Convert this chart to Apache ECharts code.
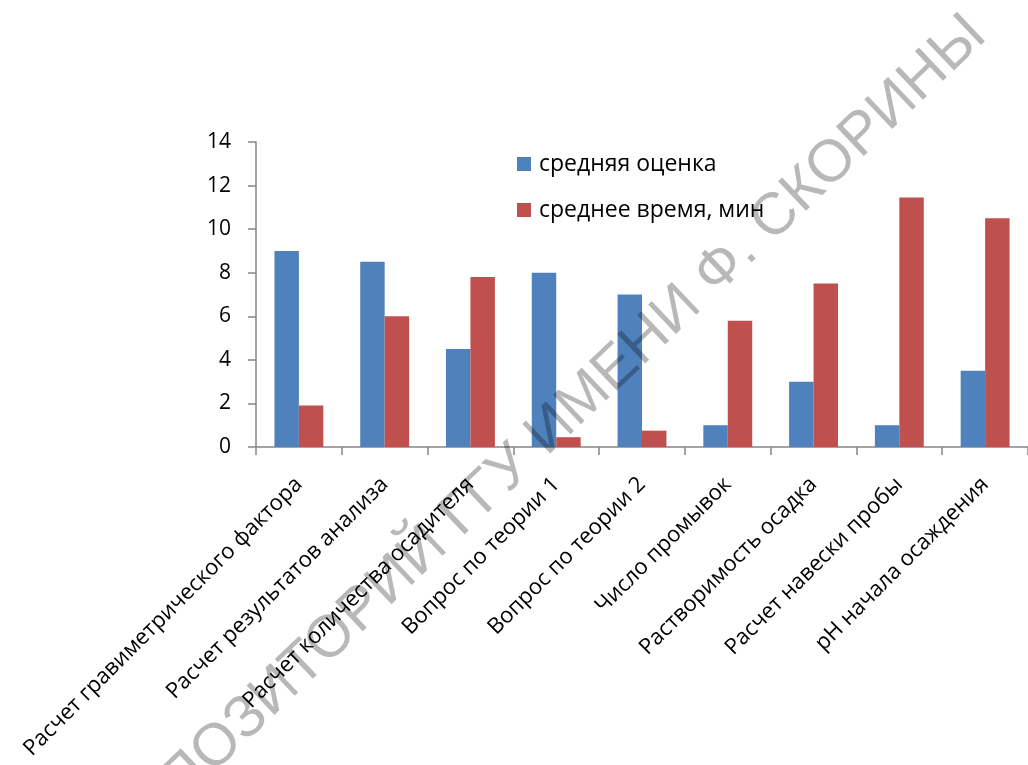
<!DOCTYPE html>
<html>
<head>
<meta charset="utf-8">
<script src="https://cdn.jsdelivr.net/npm/echarts@6/dist/echarts.min.js"></script>
<style>
  html, body { margin: 0; padding: 0; background: #ffffff; }
  #chart { width: 1028px; height: 765px; }
</style>
</head>
<body>
<div id="chart"></div>
<script>
// Categories (tasks) along the horizontal axis
const categories = [
  'Расчет гравиметрического фактора',
  'Расчет результатов анализа',
  'Расчет количества осадителя',
  'Вопрос по теории 1',
  'Вопрос по теории 2',
  'Число промывок',
  'Растворимость осадка',
  'Расчет навески пробы',
  'pH начала осаждения'
];

// Series names
const seriesNames = ['средняя оценка', 'среднее время, мин'];

// Average score per task
const avgScore = [9, 8.5, 4.5, 8, 7, 1, 3, 1, 3.5];

// Average time per task, minutes
const avgTime = [1.9, 6, 7.8, 0.45, 0.75, 5.8, 7.5, 11.45, 10.5];

// Value axis range
const yMin = 0;
const yMax = 14;
const yStep = 2;

const watermarkText = 'РЕПОЗИТОРИЙ ГГУ ИМЕНИ Ф. СКОРИНЫ';

const FONT = '"Open Sans", "Noto Sans", sans-serif';
const axisGrey = '#868686';

const chart = echarts.init(document.getElementById('chart'), null, { renderer: 'canvas' });

chart.setOption({
  animation: false,
  backgroundColor: '#ffffff',
  textStyle: { fontFamily: FONT },
  grid: { left: 256, top: 142, width: 774, height: 305, containLabel: false },
  legend: {
    orient: 'vertical',
    left: 517,
    top: 151,
    padding: 0,
    itemWidth: 14,
    itemHeight: 14,
    itemGap: 20,
    icon: 'rect',
    selectedMode: false,
    textStyle: { fontFamily: FONT, fontSize: 23, lineHeight: 26, color: '#000000', padding: [0, 0, 0, 3] },
    data: seriesNames
  },
  xAxis: {
    type: 'category',
    data: categories,
    axisLine: { show: true, lineStyle: { color: axisGrey, width: 1.5 } },
    axisTick: { show: true, length: 8, lineStyle: { color: axisGrey, width: 1.5 } },
    axisLabel: {
      interval: 0,
      rotate: 45,
      margin: 34,
      fontFamily: FONT,
      fontSize: 22,
      color: '#000000'
    }
  },
  yAxis: {
    type: 'value',
    min: yMin,
    max: yMax,
    interval: yStep,
    splitLine: { show: false },
    axisLine: { show: true, lineStyle: { color: axisGrey, width: 1.5 } },
    axisTick: { show: true, length: 8, lineStyle: { color: axisGrey, width: 1.5 } },
    axisLabel: {
      margin: 25,
      fontFamily: FONT,
      fontSize: 21,
      color: '#000000'
    }
  },
  series: [
    {
      name: seriesNames[0],
      type: 'bar',
      data: avgScore,
      barGap: '0%',
      barCategoryGap: '43%',
      itemStyle: { color: '#4F81BD' }
    },
    {
      name: seriesNames[1],
      type: 'bar',
      data: avgTime,
      barGap: '0%',
      barCategoryGap: '43%',
      itemStyle: { color: '#C0504D' }
    }
  ],
  graphic: [
    {
      type: 'text',
      x: 545,
      y: 436,
      rotation: 43.5 * Math.PI / 180,
      z: 100,
      silent: true,
      style: {
        text: watermarkText,
        fontFamily: '"Liberation Sans", Arial, sans-serif',
        fontSize: 59,
        fill: 'rgba(0, 0, 0, 0.28)',
        align: 'center',
        verticalAlign: 'middle'
      }
    }
  ]
});
</script>
</body>
</html>
